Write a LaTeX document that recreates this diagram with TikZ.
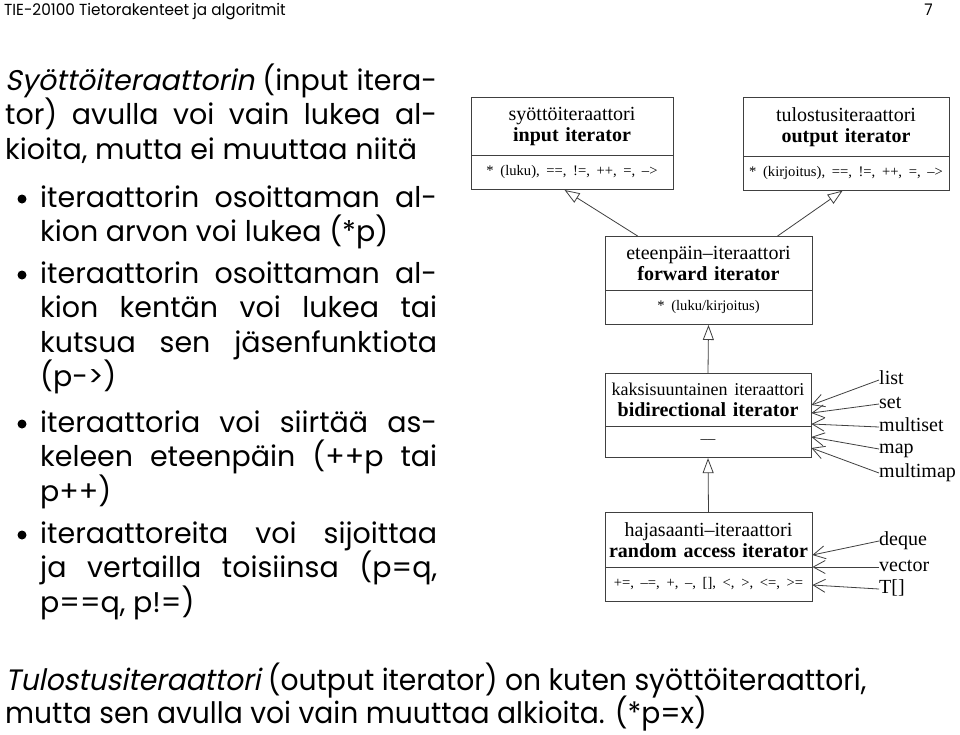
\documentclass[tikz,border=0pt]{standalone}
\usepackage{fontspec}
\setmainfont{Liberation Serif}
\newfontfamily\gothic{Poppins}
\newfontfamily\gothicit[FakeSlant=0.2]{Poppins}
\newfontfamily\gothicn[FakeStretch=0.955]{Poppins}
\newfontfamily\gothicnit[FakeStretch=0.955,FakeSlant=0.2]{Poppins}
\usetikzlibrary{shapes.multipart,arrows.meta}

\newcommand\jline[2]{\hbox to #1{#2}}
\newcommand\leftfont{\gothic\fontsize{28.5}{34.5}\selectfont}
\newcommand\ops{\fontsize{14.6}{18}\selectfont\rule[-4pt]{0pt}{11pt}}

\begin{document}
\begin{tikzpicture}[x=1pt,y=-1pt]
\fill[white] (0,0) rectangle (960,734);
\useasboundingbox (0,0) rectangle (960,734);

% header and footer
\begin{scope}[every node/.style={inner sep=0pt}]
  \node (hdr) at (4,15) [anchor=base west] {\gothicn\fontsize{16}{18}\selectfont TIE-20100 Tietorakenteet ja algoritmit};
  \node (pageno) at (933,15) [anchor=base east] {\gothicn\fontsize{16}{18}\selectfont 7};
  \node (footer1) at (5,690) [anchor=base west] {\gothicn\fontsize{29.5}{30}\selectfont {\gothicnit Tulostusiteraattori} (output iterator) on kuten syöttöiteraattori,};
  \node (footer2) at (5,723) [anchor=base west] {\gothicn\fontsize{29.5}{30}\selectfont mutta sen avulla voi vain muuttaa alkioita. (*p=x)};
\end{scope}

% left column text
\begin{scope}[every node/.style={anchor=base west,inner sep=0pt}]
  \node (intro) at (5,90) {\begin{minipage}[t]{432pt}\leftfont
    \jline{432pt}{{\gothicit Syöttöiteraattorin} (input itera-}
    \jline{432pt}{tor) avulla voi vain lukea al-}
    \hbox{kioita, mutta ei muuttaa niitä}
  \end{minipage}};
  \node (item1) at (40,207) {\begin{minipage}[t]{397pt}\leftfont
    \jline{397pt}{iteraattorin osoittaman al-}
    \hbox{kion arvon voi lukea (*p)}
  \end{minipage}};
  \node (item2) at (40,283) {\begin{minipage}[t]{397pt}\leftfont
    \jline{397pt}{iteraattorin osoittaman al-}
    \jline{397pt}{kion kentän voi lukea tai}
    \jline{397pt}{kutsua sen jäsenfunktiota}
    \hbox{(p->)}
  \end{minipage}};
  \node (item3) at (40,432) {\begin{minipage}[t]{397pt}\leftfont
    \jline{397pt}{iteraattoria voi siirtää as-}
    \jline{397pt}{keleen eteenpäin (++p tai}
    \hbox{p++)}
  \end{minipage}};
  \node (item4) at (40,543) {\begin{minipage}[t]{397pt}\leftfont
    \jline{397pt}{iteraattoreita voi sijoittaa}
    \jline{397pt}{ja vertailla toisiinsa (p=q,}
    \hbox{p==q, p!=)}
  \end{minipage}};
\end{scope}
\foreach \y in {199,275,424,535}
  \fill (22,\y) circle (4.5pt);

% iterator classes
\begin{scope}[every node/.style={rectangle split,rectangle split parts=2,draw=black!75,line width=0.8pt,
    inner xsep=2pt,inner ysep=9.5pt,anchor=north,align=center,font=\fontsize{20}{21}\selectfont}]
  \node[text width=198pt] (inp) at (572,97) {syöttöiteraattori\\\textbf{input iterator}
    \nodepart{two}\ops * (luku), ==, !=, ++, =, -->};
  \node[text width=202pt] (outp) at (846,97) {tulostusiteraattori\\\textbf{output iterator}
    \nodepart{two}\ops * (kirjoitus), ==, !=, ++, =, -->};
  \node[text width=203pt] (fwd) at (708.5,236) {eteenpäin--iteraattori\\\textbf{forward iterator}
    \nodepart{two}\ops * (luku/kirjoitus)};
  \node[text width=202pt] (bidi) at (708,373) {{\fontsize{18}{21}\selectfont kaksisuuntainen iteraattori}\\\textbf{bidirectional iterator}
    \nodepart{two}\ops \textendash\textendash};
  \node[text width=203pt] (rand) at (708.5,512) {hajasaanti--iteraattori\\\textbf{random access iterator}
    \nodepart{two}\ops +=, --=, +, --, [], <, >, <=, >=};
\end{scope}

% containers
\begin{scope}[every node/.style={anchor=west,inner sep=0pt,text height=9pt,text depth=0pt,font=\fontsize{20}{22}\selectfont}]
  \node (list) at (879,380) {list};
  \node (set) at (879,404) {set};
  \node (multiset) at (879,427) {multiset};
  \node (map) at (879,449) {map};
  \node (multimap) at (879,473) {multimap};
  \node (deque) at (879,541) {deque};
  \node (vector) at (879,567) {vector};
  \node (carray) at (879,589) {T[]};
\end{scope}

\begin{scope}[every edge/.style={draw=black!75,line width=0.8pt}]
  \path [-{Triangle[open,length=15pt,width=11pt]}] ([xshift=33pt]fwd.north west) edge ([xshift=94pt]inp.south west);
  \path [-{Triangle[open,length=15pt,width=11pt]}] ([xshift=173pt]fwd.north west) edge ([xshift=100pt]outp.south west);
  \path [-{Triangle[open,length=15pt,width=11pt]}] (bidi.north) edge (fwd.south);
  \path [-{Triangle[open,length=15pt,width=11pt]}] (rand.north) edge (bidi.south);

  \path [-{Straight Barb[length=12pt,width=13pt]}] (list.west) edge ([yshift=-32pt]bidi.north east);
  \path [-{Straight Barb[length=12pt,width=13pt]}] (set.west) edge ([yshift=-40pt]bidi.north east);
  \path [-{Straight Barb[length=12pt,width=13pt]}] (multiset.west) edge ([yshift=-51pt]bidi.north east);
  \path [-{Straight Barb[length=12pt,width=13pt]}] (map.west) edge ([yshift=-64pt]bidi.north east);
  \path [-{Straight Barb[length=12pt,width=13pt]}] (multimap.west) edge ([yshift=-75pt]bidi.north east);
  \path [-{Straight Barb[length=12pt,width=13pt]}] (deque.west) edge ([yshift=-43pt]rand.north east);
  \path [-{Straight Barb[length=12pt,width=13pt]}] (vector.west) edge ([yshift=-55pt]rand.north east);
  \path [-{Straight Barb[length=12pt,width=13pt]}] (carray.west) edge ([yshift=-73pt]rand.north east);
\end{scope}
\end{tikzpicture}
\end{document}
